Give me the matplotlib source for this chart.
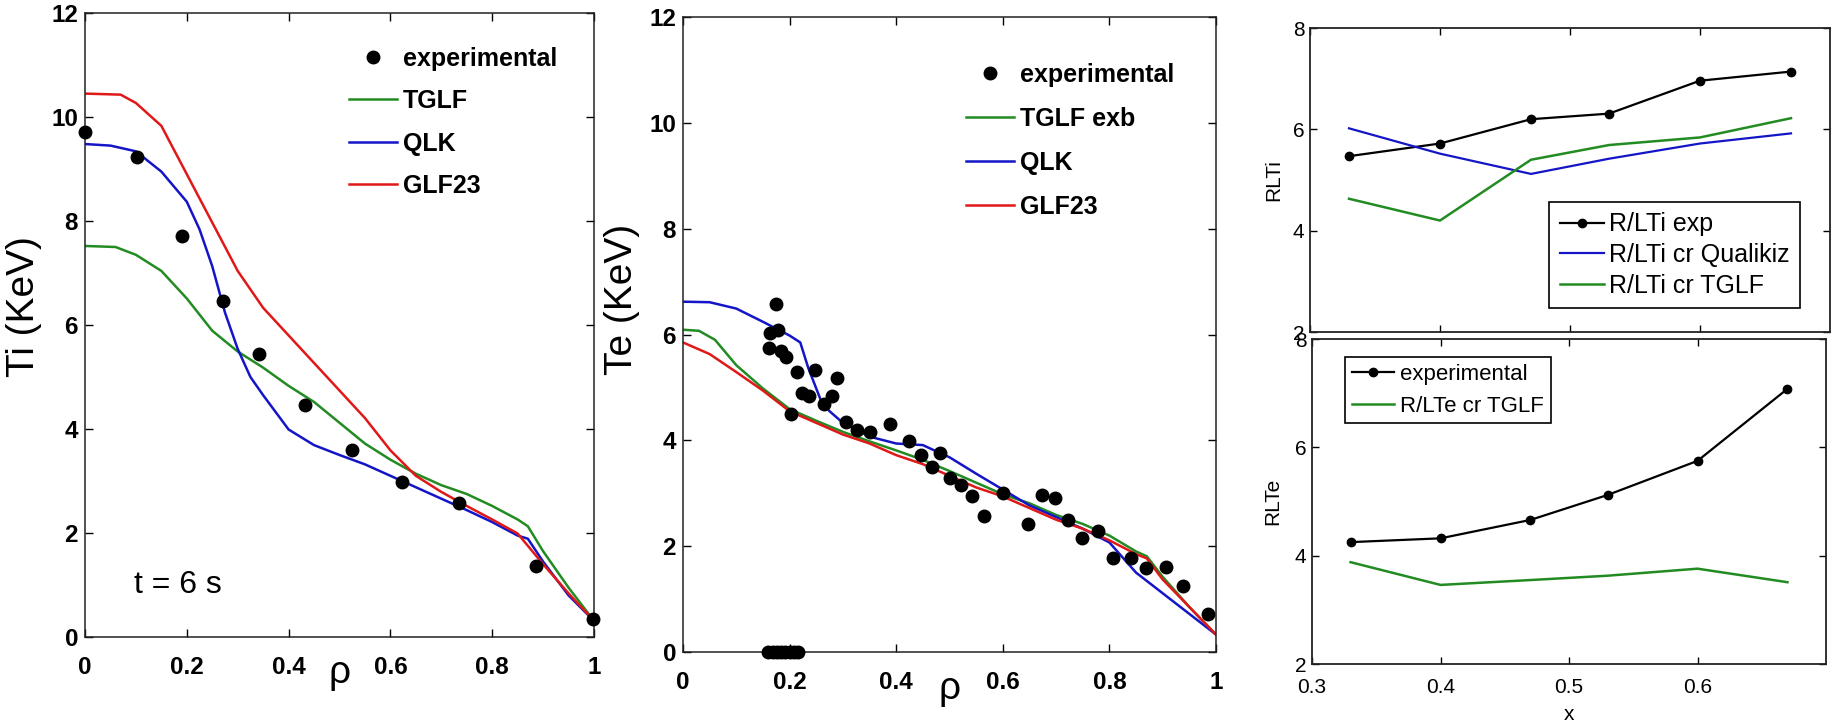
import matplotlib
matplotlib.use("Agg")
import matplotlib.pyplot as plt

plt.rcParams['font.family'] = ['Liberation Sans', 'DejaVu Sans']

GREEN = '#228b22'
BLUE = '#1515c8'
RED = '#e01818'

# ---------------- Panel 1: Ti ----------------
rho_ti_exp = [0.0, 0.103, 0.19, 0.272, 0.342, 0.432, 0.524, 0.623, 0.735, 0.887, 0.998]
ti_exp = [9.72, 9.23, 7.71, 6.47, 5.45, 4.47, 3.60, 2.99, 2.57, 1.37, 0.35]

rho_ti_tglf = [0, 0.06, 0.1, 0.15, 0.2, 0.25, 0.3, 0.35, 0.4, 0.45, 0.5, 0.55, 0.6,
               0.65, 0.7, 0.75, 0.8, 0.85, 0.87, 0.9, 0.95, 1.0]
ti_tglf = [7.52, 7.50, 7.35, 7.04, 6.51, 5.89, 5.49, 5.18, 4.83, 4.52, 4.12, 3.72, 3.41,
           3.14, 2.92, 2.75, 2.52, 2.26, 2.13, 1.65, 0.95, 0.31]

rho_ti_qlk = [0, 0.05, 0.1, 0.15, 0.2, 0.225, 0.25, 0.275, 0.3, 0.325, 0.35, 0.4, 0.45,
              0.5, 0.55, 0.6, 0.65, 0.7, 0.75, 0.8, 0.85, 0.87, 0.9, 0.95, 1.0]
ti_qlk = [9.48, 9.45, 9.34, 8.95, 8.37, 7.84, 7.13, 6.24, 5.54, 5.00, 4.65, 3.99, 3.69,
          3.50, 3.32, 3.10, 2.88, 2.66, 2.44, 2.21, 1.95, 1.89, 1.45, 0.80, 0.31]

rho_ti_glf = [0, 0.07, 0.1, 0.15, 0.2, 0.25, 0.3, 0.35, 0.4, 0.45, 0.5, 0.55, 0.6, 0.65,
              0.7, 0.75, 0.8, 0.85, 0.9, 0.95, 1.0]
ti_glf = [10.45, 10.43, 10.27, 9.83, 8.90, 7.97, 7.04, 6.33, 5.80, 5.27, 4.74, 4.21, 3.59,
          3.10, 2.79, 2.52, 2.26, 1.99, 1.40, 0.84, 0.31]

# ---------------- Panel 2: Te ----------------
rho_te_exp = [0.175, 0.164, 0.178, 0.162, 0.184, 0.193, 0.214, 0.202, 0.223, 0.236, 0.248,
              0.264, 0.279, 0.288, 0.305, 0.327, 0.351, 0.389, 0.424, 0.446, 0.468, 0.482,
              0.500, 0.522, 0.543, 0.565, 0.601, 0.647, 0.673, 0.697, 0.723, 0.749, 0.779,
              0.807, 0.840, 0.868, 0.906, 0.938, 0.985,
              0.160, 0.168, 0.176, 0.184, 0.192, 0.200, 0.208, 0.216]
te_exp = [6.57, 6.03, 6.09, 5.74, 5.68, 5.57, 5.30, 4.50, 4.90, 4.83, 5.33,
          4.68, 4.83, 5.17, 4.35, 4.20, 4.16, 4.30, 3.98, 3.72, 3.50, 3.77,
          3.29, 3.16, 2.94, 2.57, 3.01, 2.42, 2.96, 2.91, 2.50, 2.16, 2.29,
          1.78, 1.78, 1.58, 1.61, 1.24, 0.72,
          0.0, 0.0, 0.0, 0.0, 0.0, 0.0, 0.0, 0.0]

rho_te_qlk = [0, 0.05, 0.1, 0.15, 0.2, 0.22, 0.235, 0.25, 0.26, 0.275, 0.3, 0.35, 0.4, 0.45,
              0.48, 0.5, 0.55, 0.6, 0.65, 0.7, 0.75, 0.8, 0.85, 0.9, 0.95, 1.0]
te_qlk = [6.62, 6.61, 6.49, 6.24, 5.98, 5.85, 5.37, 4.98, 4.72, 4.55, 4.33, 4.07, 3.94, 3.91,
          3.77, 3.68, 3.37, 3.07, 2.77, 2.55, 2.33, 2.07, 1.50, 1.11, 0.72, 0.33]

rho_te_tglf = [0, 0.03, 0.06, 0.1, 0.15, 0.2, 0.25, 0.3, 0.35, 0.4, 0.45, 0.5, 0.55, 0.6,
               0.65, 0.7, 0.75, 0.8, 0.85, 0.87, 0.9, 0.95, 1.0]
te_tglf = [6.09, 6.07, 5.90, 5.42, 4.98, 4.59, 4.37, 4.16, 3.98, 3.81, 3.63, 3.42, 3.20, 2.98,
           2.81, 2.59, 2.42, 2.20, 1.90, 1.81, 1.42, 0.85, 0.33]

rho_te_glf = [0, 0.05, 0.1, 0.15, 0.2, 0.25, 0.3, 0.35, 0.4, 0.45, 0.5, 0.55, 0.6, 0.65,
              0.7, 0.75, 0.8, 0.85, 0.87, 0.9, 0.95, 1.0]
te_glf = [5.85, 5.63, 5.29, 4.94, 4.55, 4.33, 4.11, 3.94, 3.72, 3.55, 3.33, 3.11, 2.94, 2.72,
          2.50, 2.33, 2.11, 1.85, 1.77, 1.37, 0.85, 0.33]

# ---------------- Panels 3/4: gradients ----------------
x_grad = [0.33, 0.40, 0.47, 0.53, 0.60, 0.67]
rlti_exp = [5.47, 5.72, 6.20, 6.31, 6.96, 7.14]
rlti_qlk = [6.02, 5.52, 5.12, 5.42, 5.72, 5.92]
rlti_tglf = [4.63, 4.20, 5.40, 5.69, 5.84, 6.22]
rlte_exp = [4.25, 4.32, 4.66, 5.12, 5.75, 7.08]
rlte_tglf = [3.88, 3.46, 3.55, 3.63, 3.76, 3.51]

rho_ticks = [0, 0.2, 0.4, 0.6, 0.8, 1]
rho_ticklabels = ['0', '0.2', '0.4', '0.6', '0.8', '1']
temp_ticks = [0, 2, 4, 6, 8, 10, 12]
grad_yticks = [2, 4, 6, 8]
grad_xticks = [0.3, 0.4, 0.5, 0.6]
grad_xticklabels = ['0.3', '0.4', '0.5', '0.6']

W, H = 1835, 721
fig = plt.figure(figsize=(W / 100, H / 100), dpi=100)


def px_axes(l, t, r, b):
    return fig.add_axes([l / W, 1 - b / H, (r - l) / W, (b - t) / H])


def style_big(ax):
    ax.set_xlim(0, 1)
    ax.set_ylim(0, 12)
    ax.set_xticks(rho_ticks)
    ax.set_xticklabels(rho_ticklabels)
    ax.set_yticks(temp_ticks)
    ax.tick_params(direction='in', top=True, right=True, length=6, width=1.0,
                   labelsize=17.5)
    ax.tick_params(axis='x', pad=14)
    ax.tick_params(axis='y', pad=5)
    for lab in ax.get_xticklabels() + ax.get_yticklabels():
        lab.set_fontweight('bold')
    for s in ax.spines.values():
        s.set_linewidth(1.1)
        s.set_color('#222222')


# Panel 1
ax1 = px_axes(85, 13, 594, 637)
ax1.plot(rho_ti_exp, ti_exp, 'o', color='black', ms=9, label='experimental', clip_on=False, zorder=5)
ax1.plot(rho_ti_tglf, ti_tglf, '-', color=GREEN, lw=1.8, label='TGLF')
ax1.plot(rho_ti_qlk, ti_qlk, '-', color=BLUE, lw=1.8, label='QLK')
ax1.plot(rho_ti_glf, ti_glf, '-', color=RED, lw=1.8, label='GLF23')
style_big(ax1)
ax1.set_ylabel('Ti (KeV)', fontsize=28)
ax1.yaxis.set_label_coords(-0.085, 0.53)
ax1.set_xlabel('ρ', fontsize=28)
ax1.xaxis.label.set_va('center')
ax1.xaxis.set_label_coords(0.5, -0.058)
ax1.text(0.096, 1.0, 't = 6 s', fontsize=23, va='center', ha='left')
leg1 = ax1.legend(loc='upper left', bbox_to_anchor=(0.519, 0.946), frameon=False,
                  borderpad=0, borderaxespad=0, handlelength=1.9, handletextpad=0.25,
                  labelspacing=0.74, numpoints=1, prop={'weight': 'bold', 'size': 18})

# Panel 2
ax2 = px_axes(683, 17, 1216, 652)
ax2.plot(rho_te_exp, te_exp, 'o', color='black', ms=9, label='experimental', clip_on=False, zorder=5)
ax2.plot(rho_te_tglf, te_tglf, '-', color=GREEN, lw=1.8, label='TGLF exb')
ax2.plot(rho_te_qlk, te_qlk, '-', color=BLUE, lw=1.8, label='QLK')
ax2.plot(rho_te_glf, te_glf, '-', color=RED, lw=1.8, label='GLF23')
style_big(ax2)
ax2.set_ylabel('Te (KeV)', fontsize=28)
ax2.yaxis.set_label_coords(-0.081, 0.556)
ax2.set_xlabel('ρ', fontsize=28)
ax2.xaxis.label.set_va('center')
ax2.xaxis.set_label_coords(0.5, -0.058)
leg2 = ax2.legend(loc='upper left', bbox_to_anchor=(0.531, 0.928), frameon=False,
                  borderpad=0, borderaxespad=0, handlelength=1.9, handletextpad=0.25,
                  labelspacing=0.8, numpoints=1, prop={'weight': 'bold', 'size': 18})


def style_small(ax, xlabels):
    ax.set_xlim(0.3, 0.7)
    ax.set_ylim(2, 8)
    ax.set_yticks(grad_yticks)
    ax.set_xticks(grad_xticks)
    if xlabels:
        ax.set_xticklabels(grad_xticklabels)
    else:
        ax.set_xticklabels([])
    ax.tick_params(direction='in', top=True, right=True, length=5, width=1.0,
                   labelsize=15)
    ax.tick_params(axis='x', pad=10)
    ax.tick_params(axis='y', pad=4)
    for s in ax.spines.values():
        s.set_linewidth(1.3)
        s.set_color('#222222')


# Panel 3
ax3 = px_axes(1310, 28, 1830, 332)
ax3.plot(x_grad, rlti_exp, '-o', color='black', ms=6, lw=1.6, label='R/LTi exp')
ax3.plot(x_grad, rlti_qlk, '-', color=BLUE, lw=1.6, label='R/LTi cr Qualikiz')
ax3.plot(x_grad, rlti_tglf, '-', color=GREEN, lw=1.8, label='R/LTi cr TGLF')
style_small(ax3, False)
ax3.set_ylabel('RLTi', fontsize=15)
ax3.yaxis.set_label_coords(-0.052, 0.5)
lg3 = ax3.legend(loc='upper right', bbox_to_anchor=(0.942, 0.428), borderaxespad=0,
                 fancybox=False, edgecolor='black', framealpha=1, fontsize=18,
                 handlelength=1.75, handletextpad=0.2, labelspacing=0.27, borderpad=0.42,
                 numpoints=1)
lg3.get_frame().set_linewidth(1.2)

# Panel 4
ax4 = px_axes(1312, 339, 1826, 664)
ax4.plot(x_grad, rlte_exp, '-o', color='black', ms=6, lw=1.6, label='experimental')
ax4.plot(x_grad, rlte_tglf, '-', color=GREEN, lw=1.8, label='R/LTe cr TGLF')
style_small(ax4, True)
ax4.set_ylabel('RLTe', fontsize=15)
ax4.yaxis.set_label_coords(-0.058, 0.5)
ax4.set_xlabel('x', fontsize=15)
ax4.xaxis.set_label_coords(0.5, -0.125)
lg4 = ax4.legend(loc='upper left', bbox_to_anchor=(0.064, 0.945), borderaxespad=0,
                 fancybox=False, edgecolor='black', framealpha=1, fontsize=16,
                 handlelength=1.9, handletextpad=0.3, labelspacing=0.5, borderpad=0.3,
                 numpoints=1)
lg4.get_frame().set_linewidth(1.2)

fig.savefig('out.png', dpi=100, facecolor='white')
